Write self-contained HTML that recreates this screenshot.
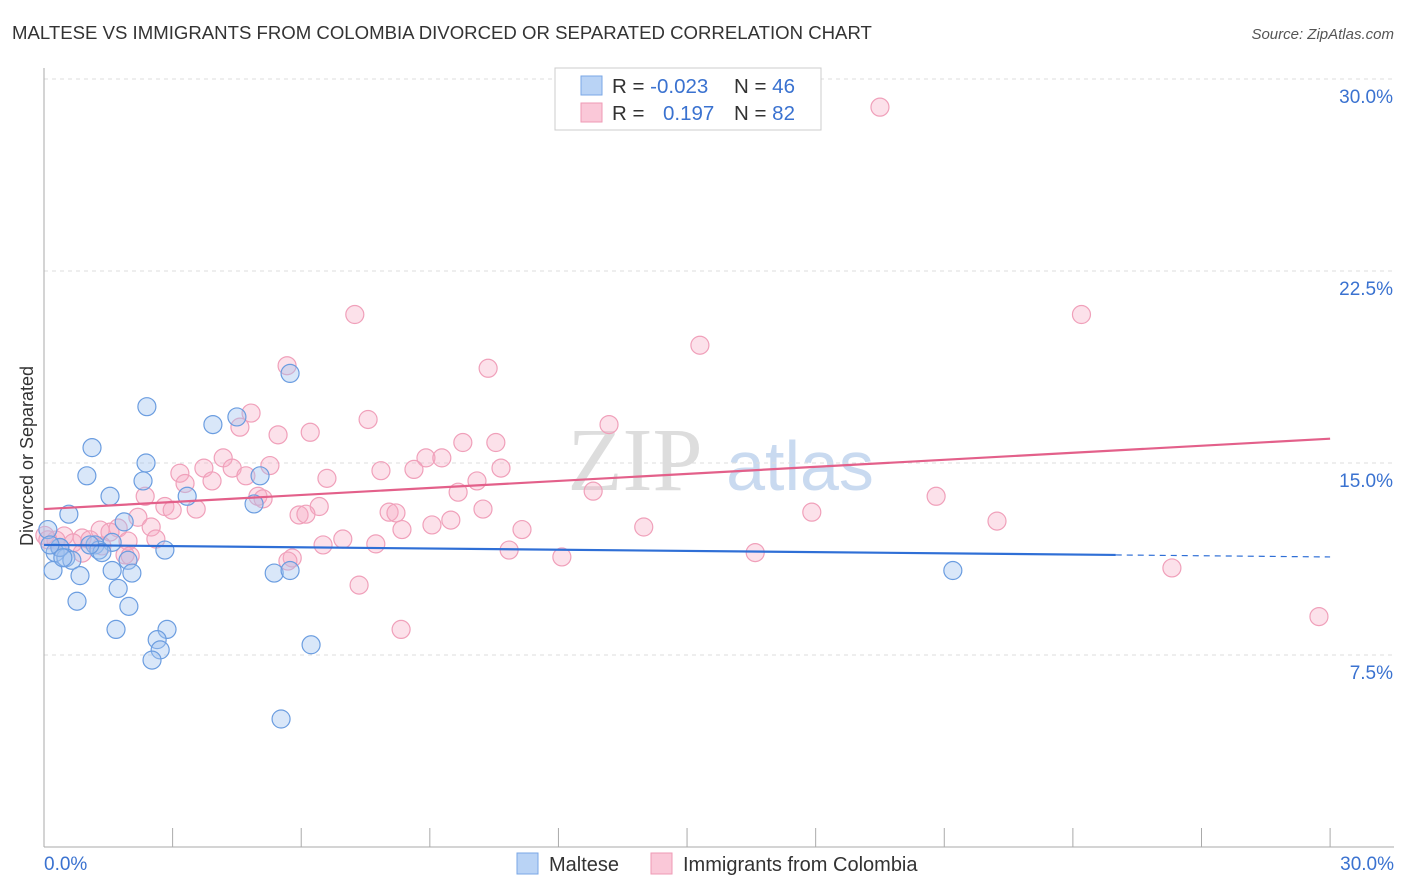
<!DOCTYPE html>
<html><head><meta charset="utf-8"><style>
body{margin:0;background:#fff;font-family:"Liberation Sans",sans-serif}
svg{display:block}
</style></head><body>
<svg id="c" width="1406" height="892">
<text x="12" y="39" font-size="18.6" fill="#333">MALTESE VS IMMIGRANTS FROM COLOMBIA DIVORCED OR SEPARATED CORRELATION CHART</text>
<text x="1394" y="39" font-size="15" fill="#555" font-style="italic" text-anchor="end">Source: ZipAtlas.com</text>
<text x="0" y="0" transform="translate(33,456) rotate(-90)" font-size="18" fill="#333" text-anchor="middle">Divorced or Separated</text>
<text x="635" y="490" font-size="90" fill="#ddd" font-family="Liberation Serif,serif" text-anchor="middle">ZIP</text>
<text x="800" y="490" font-size="70" fill="#c9daf0" text-anchor="middle">atlas</text>
<g id="grid"></g><g id="pts"></g><g id="lines"></g>
<g>
<rect x="555" y="68" width="266" height="62" fill="#fff" stroke="#ccc"/>
<rect x="581" y="76" width="21" height="19" fill="#b9d3f5" stroke="#7aa7e6"/>
<rect x="581" y="103" width="21" height="19" fill="#fac8d8" stroke="#ef9ab5"/>
<text x="612" y="93" font-size="20.5" fill="#333">R = <tspan fill="#3a72d0">-0.023</tspan></text>
<text x="734" y="93" font-size="20.5" fill="#333">N = <tspan fill="#3a72d0">46</tspan></text>
<text x="612" y="120" font-size="20.5" fill="#333">R = </text>
<text x="663" y="120" font-size="20.5" fill="#3a72d0">0.197</text>
<text x="734" y="120" font-size="20.5" fill="#333">N = <tspan fill="#3a72d0">82</tspan></text>
</g>
<g>
<rect x="517" y="853" width="21" height="21" fill="#b9d3f5" stroke="#7aa7e6"/>
<text x="549" y="871" font-size="20" fill="#333">Maltese</text>
<rect x="651" y="853" width="21" height="21" fill="#fac8d8" stroke="#ef9ab5"/>
<text x="683" y="871" font-size="20" fill="#333">Immigrants from Colombia</text>
</g>
</svg>
<script>
const yTicks=[7.5,15,22.5,30];
const xTickLabels=["0.0%","30.0%"];
const blueX=[5.74,2.40,4.50,3.94,1.12,2.38,1.00,2.31,5.04,3.34,1.54,4.90,0.58,1.87,0.09,1.59,1.19,0.37,1.28,0.26,0.51,0.65,2.82,1.35,1.96,0.21,0.84,1.59,2.05,5.37,5.74,21.2,1.73,0.77,1.98,1.68,2.87,2.64,2.71,2.52,6.23,5.53,0.37,0.14,0.44,1.07];
const blueY=[18.5,17.2,16.8,16.5,15.6,15.0,14.5,14.3,14.5,13.7,13.7,13.4,13.0,12.7,12.4,11.9,11.8,11.7,11.6,11.5,11.3,11.2,11.6,11.5,11.2,10.8,10.6,10.8,10.7,10.7,10.8,10.8,10.1,9.6,9.4,8.5,8.5,8.1,7.7,7.3,7.9,5.0,11.7,11.8,11.3,11.8];
const pinkX=[19.5,7.25,24.2,15.3,5.67,10.36,4.83,7.56,4.57,13.18,5.46,6.21,9.77,10.54,4.18,8.91,9.28,3.17,3.73,4.39,7.86,8.63,10.66,6.60,3.29,3.92,4.71,5.27,9.66,10.1,12.81,20.81,2.36,4.99,5.11,2.82,3.55,6.42,2.99,10.24,2.19,5.95,6.11,8.05,8.21,17.91,22.23,9.05,9.49,2.50,8.35,13.99,11.15,1.31,1.73,1.54,0.47,0.89,0.28,0.68,1.96,2.61,6.97,6.51,7.74,1.35,0.02,0.89,10.85,12.08,16.59,1.89,2.01,5.79,5.69,26.31,7.35,8.33,29.74,0.37,0.09,1.07];
const pinkY=[28.9,20.8,20.8,19.6,18.8,18.7,16.95,16.7,16.4,16.5,16.1,16.2,15.8,15.8,15.2,15.2,15.2,14.6,14.8,14.8,14.7,14.75,14.8,14.4,14.2,14.3,14.5,14.9,13.86,14.3,13.9,13.7,13.7,13.7,13.6,13.3,13.2,13.3,13.16,13.2,12.88,12.97,13.0,13.08,13.05,13.08,12.73,12.58,12.77,12.5,12.4,12.5,12.4,12.38,12.46,12.3,12.15,12.07,11.99,11.88,11.95,12.03,12.03,11.8,11.84,11.76,12.17,11.48,11.6,11.33,11.5,11.41,11.37,11.29,11.17,10.9,10.23,8.5,9.0,11.7,12.0,12.0];
const blueTrend=[11.8,11.33],pinkTrend=[13.2,15.95];
const X=v=>44+v*42.87, Y=v=>847-v*25.6;
const NS='http://www.w3.org/2000/svg';
function mk(p,t,a){const e=document.createElementNS(NS,t);for(const k in a)e.setAttribute(k,a[k]);document.getElementById(p).appendChild(e);return e;}
yTicks.forEach(t=>{
 const l=mk('grid','line',{x1:44,x2:1394,y1:Y(t),y2:Y(t),stroke:'#ddd','stroke-dasharray':'4,4'});
 
 
 const s=mk('grid','text',{x:1393,y:Y(t)+24,'font-size':19,fill:'#3a72d0','text-anchor':'end'});
 s.textContent=t.toFixed(1)+'%';
 
 
});
const ax=mk('grid','line',{x1:44,x2:44,y1:68,y2:847,stroke:'#aaa'});


const bx=mk('grid','line',{x1:44,x2:1394,y1:847,y2:847,stroke:'#aaa'});


for(let i=1;i<=10;i++){const t=mk('grid','line',{x1:X(i*3),x2:X(i*3),y1:828,y2:847,stroke:'#aaa'});
 
 }
[[0,'start',44],[1,'end',1394]].forEach(([i,a,x])=>{const s=mk('grid','text',{x:x,y:870,'font-size':19,fill:'#3a72d0','text-anchor':a});s.textContent=xTickLabels[i];
 
 });
pinkX.forEach((v,i)=>{const c=mk('pts','circle',{cx:X(v),cy:Y(pinkY[i]),r:9,fill:'rgba(246,170,195,0.35)',stroke:'#f0a0ba','stroke-width':1.2});
 
 });
blueX.forEach((v,i)=>{const c=mk('pts','circle',{cx:X(v),cy:Y(blueY[i]),r:9,fill:'rgba(160,195,240,0.4)',stroke:'#6b9de0','stroke-width':1.2});
 
 });
const bs=blueTrend[0]+(blueTrend[1]-blueTrend[0])*25/30;
let l=mk('lines','line',{x1:X(0),y1:Y(blueTrend[0]),x2:X(25),y2:Y(bs),stroke:'#2f6fd6','stroke-width':2.2});


l=mk('lines','line',{x1:X(25),y1:Y(bs),x2:X(30),y2:Y(blueTrend[1]),stroke:'#2f6fd6','stroke-width':1.2,'stroke-dasharray':'6,5'});


l=mk('lines','line',{x1:X(0),y1:Y(pinkTrend[0]),x2:X(30),y2:Y(pinkTrend[1]),stroke:'#e3608a','stroke-width':2.2});


</script>
</body></html>
